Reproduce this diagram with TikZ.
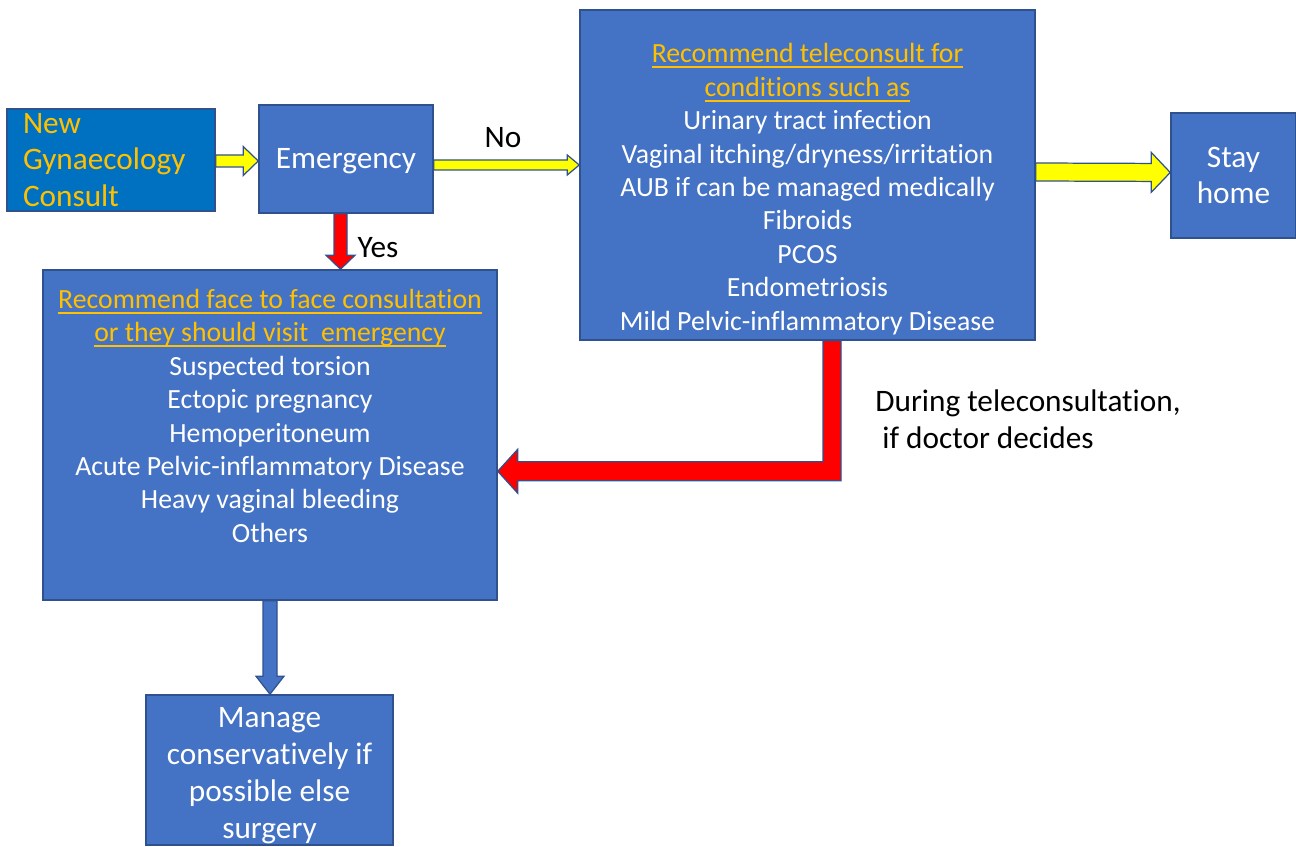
\documentclass[tikz,border=0pt]{standalone}
\usepackage{xcolor}
\usepackage{fontspec}
\setmainfont{Carlito}[Ligatures={NoCommon}]
\usepackage{tikz}
\usetikzlibrary{calc}
\definecolor{boxblue}{HTML}{4472C4}
\definecolor{deepblue}{HTML}{0070C0}
\definecolor{edgeblue}{HTML}{2F528F}
\definecolor{amber}{HTML}{FFC000}
\definecolor{arrowyellow}{HTML}{FFFF00}
\definecolor{arrowred}{HTML}{FF0000}
\newcommand{\ulhead}[1]{\setbox0\hbox{#1}\rlap{\rule[-3pt]{\wd0}{1.1pt}}\box0}
\newcommand{\blockarrow}[6]{%
  \coordinate (ahead) at ($(#3)!#6!(#2)$);
  \filldraw[#1] ($(#2)!#4!90:(#3)$) -- ($(ahead)!#4!90:(#3)$) -- ($(ahead)!#5!90:(#3)$) -- (#3)
    -- ($(ahead)!#5!-90:(#3)$) -- ($(ahead)!#4!-90:(#3)$) -- ($(#2)!#4!-90:(#3)$) -- cycle;}

\begin{document}
\begin{tikzpicture}[x=0.02cm, y=-0.02cm, line join=miter,
  box/.style={draw=edgeblue, fill=boxblue, line width=0.9pt, text=white, align=center, inner sep=0pt, font=\fontsize{17.8}{21}\selectfont},
  listbox/.style={box, font=\fontsize{15.8}{19}\selectfont},
  yellowarrow/.style={fill=arrowyellow, draw=edgeblue, line width=0.7pt},
  redarrow/.style={fill=arrowred, draw=edgeblue, line width=0.7pt},
  bluearrow/.style={fill=boxblue, draw=edgeblue, line width=0.7pt},
  tag/.style={text=black, inner sep=0pt, font=\fontsize{17.8}{21}\selectfont}]
\useasboundingbox (0,0) rectangle (1296,847);
\node[box, fill=deepblue, text=amber, align=left, minimum width=4.16cm, minimum height=2.04cm, text width=3.52cm] (new) at (111,160) {New\\Gynaecology\\Consult};
\node[box, minimum width=3.48cm, minimum height=2.16cm] (emg) at (346,159) {\rule{0pt}{14pt}Emergency};
\node[listbox, minimum width=9.1cm, minimum height=6.6cm] (tele) at (807.5,175) {\rule{0pt}{27pt}\textcolor{amber}{\ulhead{Recommend teleconsult for}}\\\textcolor{amber}{\ulhead{conditions such as}}\\Urinary tract infection\\Vaginal itching/dryness/irritation\\AUB if can be managed medically\\Fibroids\\PCOS\\Endometriosis\\Mild Pelvic-inflammatory Disease};
\node[box, minimum width=2.5cm, minimum height=2.5cm] (stay) at (1233.5,175.5) {Stay\\home};
\node[listbox, minimum width=9.08cm, minimum height=6.6cm] (face) at (270,435) {\textcolor{amber}{\ulhead{Recommend face to face consultation}}\\\textcolor{amber}{\ulhead{or they should visit~ emergency}}\\Suspected torsion\\Ectopic pregnancy\\Hemoperitoneum\\Acute Pelvic-inflammatory Disease\\Heavy vaginal bleeding\\Others\rule[-22pt]{0pt}{22pt}};
\node[box, minimum width=4.94cm, minimum height=3cm] (manage) at (269.5,770) {\rule{0pt}{18pt}Manage\\conservatively if\\possible else\\surgery};

\coordinate (no) at ($(emg.east)+(0,6)$);
\coordinate (yes) at ($(emg.south)+(-5.5,0)$);
\coordinate (bend) at ($(tele.south)+(24.5,0)$);
\coordinate (turn) at ($(bend)+(0,130.5)$);
\blockarrow{yellowarrow}{$(new.east)+(0,1)$}{$(emg.west)+(0,2)$}{0.12cm}{0.29cm}{0.3cm}
\blockarrow{yellowarrow}{no}{no -| tele.west}{0.1cm}{0.2cm}{0.24cm}
\blockarrow{yellowarrow}{$(tele.east)+(0,-3)$}{$(stay.west)+(0,-3)$}{0.18cm}{0.4cm}{0.38cm}
\blockarrow{redarrow}{yes}{yes |- face.north}{0.13cm}{0.29cm}{0.28cm}
\blockarrow{bluearrow}{face.south}{face.south |- manage.north}{0.14cm}{0.28cm}{0.36cm}
\filldraw[redarrow] ($(bend)+(-9,0)$) -- ($(bend)+(9,0)$) -- ($(turn)+(9,9.5)$) -- ($(face.east |- turn)+(20,9.5)$) -- ($(face.east |- turn)+(20,22)$) -- (face.east |- turn) -- ($(face.east |- turn)+(20,-22)$) -- ($(face.east |- turn)+(20,-9.5)$) -- ($(turn)+(-9,-9.5)$) -- cycle;

\node[tag] (nolabel) at (503,138) {No};
\node[tag] (yeslabel) at (378,248) {Yes};
\node[tag, anchor=west, align=left] (decide) at (875,419) {During teleconsultation,\\~if doctor decides};
\end{tikzpicture}
\end{document}
